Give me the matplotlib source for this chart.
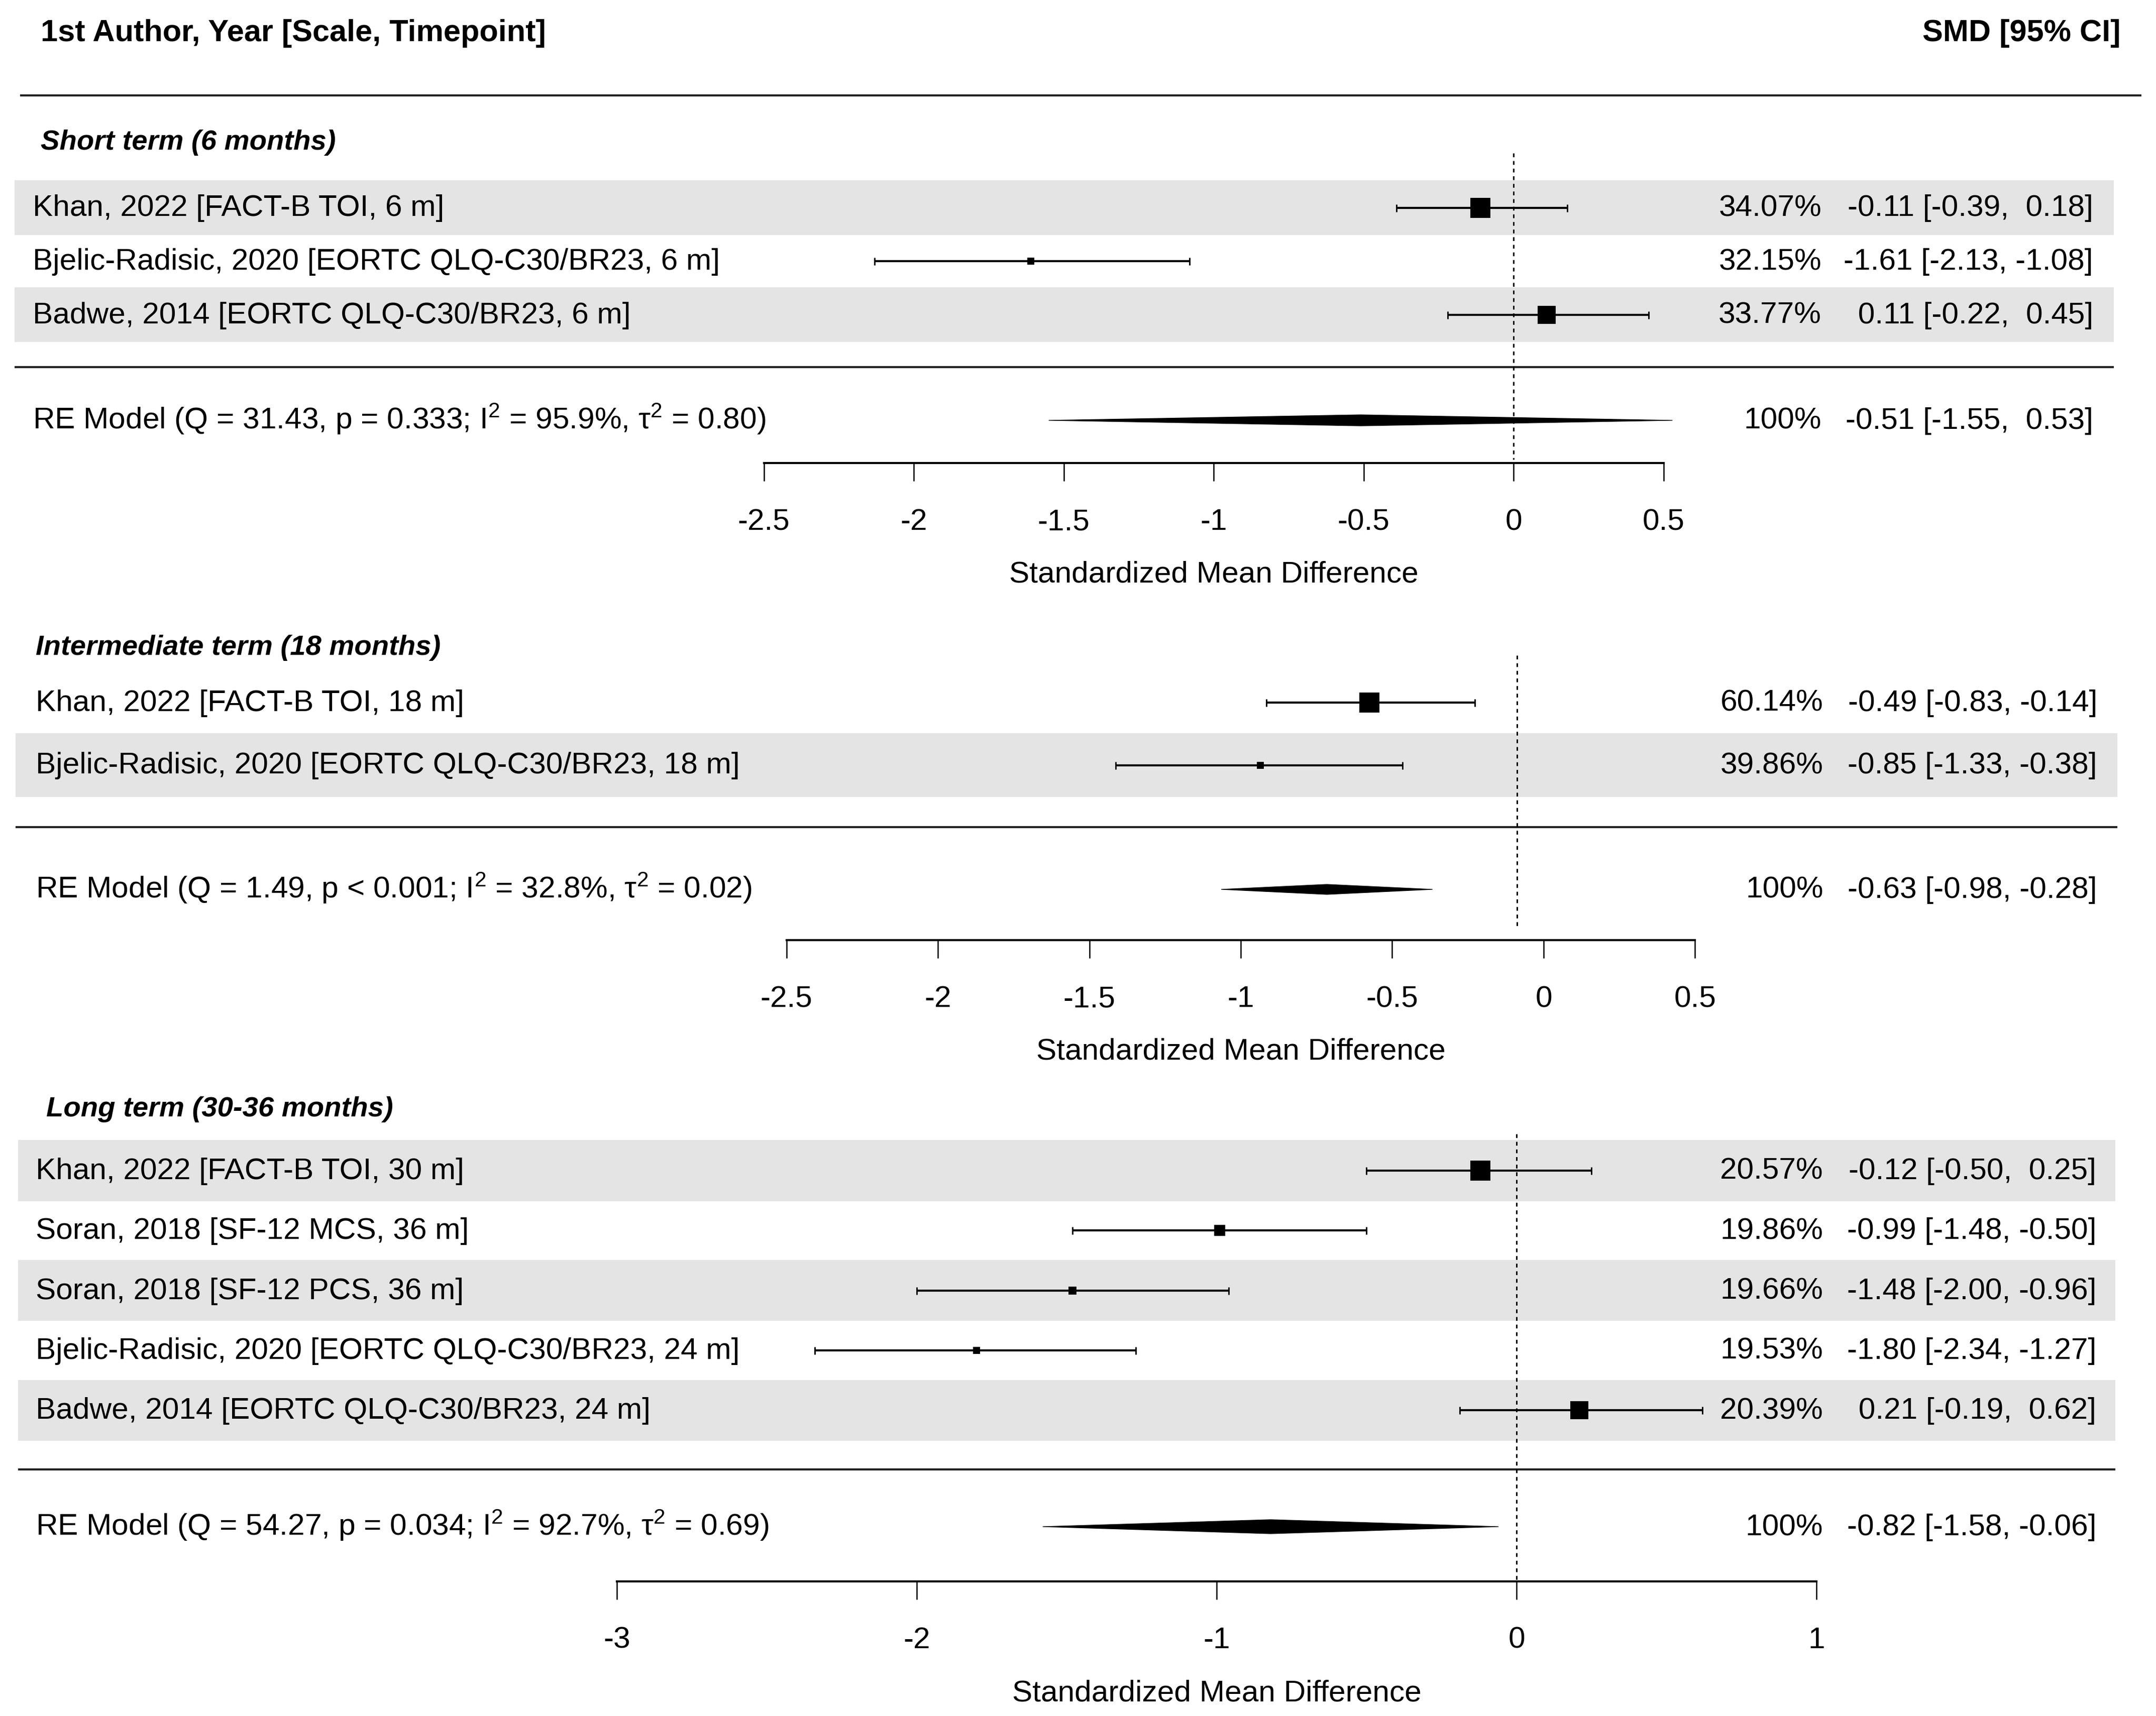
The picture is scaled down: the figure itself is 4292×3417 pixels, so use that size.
import matplotlib
matplotlib.use("Agg")
import matplotlib.pyplot as plt
from matplotlib.patches import Polygon

plt.rcParams['font.family'] = ['Liberation Sans', 'DejaVu Sans']
plt.rcParams['mathtext.fontset'] = 'custom'
plt.rcParams['mathtext.rm'] = 'Liberation Sans'
plt.rcParams['mathtext.it'] = 'Liberation Sans:italic'
plt.rcParams['axes.unicode_minus'] = False

# ---- data ----
short_labels = ['Khan, 2022 [FACT-B TOI, 6 m]',
                'Bjelic-Radisic, 2020 [EORTC QLQ-C30/BR23, 6 m]',
                'Badwe, 2014 [EORTC QLQ-C30/BR23, 6 m]']
short_est = [-0.11, -1.61, 0.11]
short_lb = [-0.39, -2.13, -0.22]
short_ub = [0.18, -1.08, 0.45]
short_wt = [34.07, 32.15, 33.77]
short_re = [-0.51, -1.55, 0.53]
short_q, short_p, short_i2, short_tau2 = 31.43, 'p = 0.333', 95.9, 0.80
short_ticks = [-2.5, -2, -1.5, -1, -0.5, 0, 0.5]

mid_labels = ['Khan, 2022 [FACT-B TOI, 18 m]',
              'Bjelic-Radisic, 2020 [EORTC QLQ-C30/BR23, 18 m]']
mid_est = [-0.49, -0.85]
mid_lb = [-0.83, -1.33]
mid_ub = [-0.14, -0.38]
mid_wt = [60.14, 39.86]
mid_re = [-0.63, -0.98, -0.28]
mid_q, mid_p, mid_i2, mid_tau2 = 1.49, 'p < 0.001', 32.8, 0.02
mid_ticks = [-2.5, -2, -1.5, -1, -0.5, 0, 0.5]

long_labels = ['Khan, 2022 [FACT-B TOI, 30 m]',
               'Soran, 2018 [SF-12 MCS, 36 m]',
               'Soran, 2018 [SF-12 PCS, 36 m]',
               'Bjelic-Radisic, 2020 [EORTC QLQ-C30/BR23, 24 m]',
               'Badwe, 2014 [EORTC QLQ-C30/BR23, 24 m]']
long_est = [-0.12, -0.99, -1.48, -1.80, 0.21]
long_lb = [-0.50, -1.48, -2.00, -2.34, -0.19]
long_ub = [0.25, -0.50, -0.96, -1.27, 0.62]
long_wt = [20.57, 19.86, 19.66, 19.53, 20.39]
long_re = [-0.82, -1.58, -0.06]
long_q, long_p, long_i2, long_tau2 = 54.27, 'p = 0.034', 92.7, 0.69
long_ticks = [-3, -2, -1, 0, 1]

# ---- layout (figure pixels) ----
W, H = 4292, 3417
FS = 14.5
FS_TITLE = 13.5

panels = [
    dict(title='Short term (6 months)', labels=short_labels, est=short_est, lb=short_lb, ub=short_ub,
         wt=short_wt, re=short_re, q=short_q, p=short_p, i2=short_i2, tau2=short_tau2, ticks=short_ticks,
         title_x=81, title_y=298, text_x=65, row0=413.5, step=106.5, shade_first=0,
         x0=29, x1=4208, sep_y=731, re_y=837, dia_h=11, dot=(305, 915),
         zero=3013, unit=597, axis_y=922, axis_zero=3013, axis_unit=597,
         pct_x=3626, ci_x=4167),
    dict(title='Intermediate term (18 months)', labels=mid_labels, est=mid_est, lb=mid_lb, ub=mid_ub,
         wt=mid_wt, re=mid_re, q=mid_q, p=mid_p, i2=mid_i2, tau2=mid_tau2, ticks=mid_ticks,
         title_x=71, title_y=1304, text_x=71, row0=1399, step=124.5, shade_first=1,
         x0=31, x1=4215, sep_y=1647, re_y=1771, dia_h=10, dot=(1305, 1847),
         zero=3020, unit=601, axis_y=1872, axis_zero=3073, axis_unit=603,
         pct_x=3630, ci_x=4175),
    dict(title='Long term (30-36 months)', labels=long_labels, est=long_est, lb=long_lb, ub=long_ub,
         wt=long_wt, re=long_re, q=long_q, p=long_p, i2=long_i2, tau2=long_tau2, ticks=long_ticks,
         title_x=92, title_y=2223, text_x=71, row0=2331, step=119.3, shade_first=0,
         x0=36, x1=4211, sep_y=2926, re_y=3040, dia_h=14, dot=(2258, 3149),
         zero=3019, unit=597, axis_y=3149, axis_zero=3019, axis_unit=597,
         pct_x=3629, ci_x=4173),
]

fig = plt.figure(figsize=(W / 300, H / 300), dpi=300)
page = fig.add_axes([0, 0, 1, 1])
page.set_xlim(0, W)
page.set_ylim(H, 0)
page.axis('off')

# header
page.text(81, 82, '1st Author, Year [Scale, Timepoint]', fontsize=14.7, fontweight='bold', va='baseline')
page.text(4222, 82, 'SMD [95% CI]', fontsize=14.7, fontweight='bold', va='baseline', ha='right')
page.hlines(190, 40, 4263, color='#222222', lw=1.0)


def ci_text(e, l, u):
    return f'{e:5.2f} [{l:5.2f}, {u:5.2f}]'


for P in panels:
    n = len(P['labels'])
    rows = [P['row0'] + i * P['step'] for i in range(n)]

    # zebra shading + separator
    for i, y in enumerate(rows):
        if (i - P['shade_first']) % 2 == 0:
            page.fill_between([P['x0'], P['x1']], y - P['step'] / 2 - 1, y + P['step'] / 2 + 1,
                              color='#e4e4e4', lw=0, zorder=0)
    page.hlines(P['sep_y'], P['x0'], P['x1'], color='#222222', lw=1.0)

    page.text(P['title_x'], P['title_y'], P['title'], fontsize=FS_TITLE, fontweight='bold',
              fontstyle='italic', va='baseline')

    for i, y in enumerate(rows):
        page.text(P['text_x'], y + 17, P['labels'][i], fontsize=FS, va='baseline')
        page.text(P['pct_x'], y + 17, f"{P['wt'][i]:.2f}%", fontsize=FS, va='baseline', ha='right')
        page.text(P['ci_x'], y + 17, ci_text(P['est'][i], P['lb'][i], P['ub'][i]),
                  fontsize=FS, va='baseline', ha='right')

    re_lab = (f"RE Model (Q = {P['q']:.2f}, {P['p']}; I$^2$ = {P['i2']:.1f}%, "
              f"τ$^2$ = {P['tau2']:.2f})")
    page.text(P['text_x'], P['re_y'] + 17, re_lab, fontsize=FS, va='baseline')
    page.text(P['pct_x'], P['re_y'] + 17, '100%', fontsize=FS, va='baseline', ha='right')
    page.text(P['ci_x'], P['re_y'] + 17, ci_text(*P['re']), fontsize=FS, va='baseline', ha='right')

    # data axes spanning the whole figure, x in SMD units
    ax = fig.add_axes([0, 0, 1, 1], facecolor='none')
    ax.set_xlim(-P['zero'] / P['unit'], (W - P['zero']) / P['unit'])
    ax.set_ylim(H, 0)
    ax.axis('off')

    ax.vlines(0, P['dot'][0], P['dot'][1], color='black', lw=0.7, linestyles=(0, (2.6, 2.6)))

    est, lb, ub = P['est'], P['lb'], P['ub']
    ax.errorbar(est, rows, xerr=[[e - l for e, l in zip(est, lb)], [u - e for e, u in zip(est, ub)]],
                fmt='none', ecolor='black', elinewidth=1.0, capsize=1.8, capthick=0.7)
    wmin, wmax = min(P['wt']), max(P['wt'])
    for i, y in enumerate(rows):
        ps = 0.5 + (P['wt'][i] - wmin) / (wmax - wmin)
        side_px = 40 * ps / 1.5
        ax.plot(est[i], y, marker='s', ms=side_px * 72 / 300, mew=0, color='black')

    m, lo, hi = P['re']
    ry, h = P['re_y'], P['dia_h']
    ax.add_patch(Polygon([(lo, ry), (m, ry - h), (hi, ry), (m, ry + h)], closed=True,
                         facecolor='black', edgecolor='black', lw=0.3))

    # x axis
    t = P['ticks']
    left = P['axis_zero'] + t[0] * P['axis_unit']
    right = P['axis_zero'] + t[-1] * P['axis_unit']
    axx = fig.add_axes([left / W, 1 - P['axis_y'] / H, (right - left) / W, 0.0001], facecolor='none')
    axx.set_xlim(t[0], t[-1])
    axx.set_xticks(t)
    axx.set_xticklabels([f'{v:g}' for v in t])
    axx.set_yticks([])
    for s in ['top', 'left', 'right']:
        axx.spines[s].set_visible(False)
    axx.spines['bottom'].set_linewidth(1.0)
    axx.tick_params(axis='x', length=8.6, width=0.6, pad=13, labelsize=FS, direction='out')
    axx.set_xlabel('Standardized Mean Difference', fontsize=FS, labelpad=12)

fig.savefig('out.png', dpi=300, facecolor='white')
